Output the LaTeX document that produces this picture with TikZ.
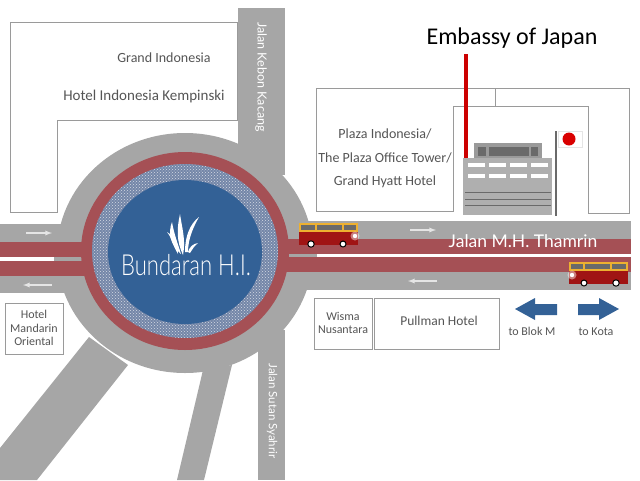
\documentclass[tikz,border=0pt]{standalone}
\usepackage{fontspec}
\setmainfont{Carlito}
\newfontfamily\thinfont{Lato Light}
\newfontfamily\streetfont{Lato}
\usetikzlibrary{patterns}

\definecolor{roadgrey}{HTML}{A6A6A6}
\definecolor{roadred}{HTML}{A55055}
\definecolor{parkblue}{HTML}{336196}
\definecolor{ringblue}{HTML}{7486A8}
\definecolor{boxline}{HTML}{9A9A9A}
\definecolor{labelgrey}{HTML}{555555}
\definecolor{busred}{HTML}{A01414}
\definecolor{busyellow}{HTML}{EDB030}
\definecolor{windowgrey}{HTML}{6A6A6A}

\tikzset{
  road/.style={fill=roadgrey,draw=none},
  lane/.style={fill=roadred,draw=none},
  plot/.style={draw=boxline,line width=0.8pt,fill=white},
  place/.style={text=labelgrey,font=\fontsize{14}{14}\selectfont,inner sep=0pt},
  streetname/.style={text=white,font=\streetfont\fontsize{12.5}{13}\selectfont,inner sep=0pt},
  flow/.style={draw=white!90!black,line width=1.3pt,-latex},
  wayout/.style={fill=parkblue,draw=none}
}

\begin{document}
\begin{tikzpicture}[x=1pt,y=-1pt]
  \useasboundingbox (0,0) rectangle (640,480);

  % plots behind the roads
  \draw[plot] (10,22) -- (237,22) -- (237,120) -- (57,120) -- (57,212) -- (10,212) -- cycle;
  \draw[plot] (316,88) -- (629,88) -- (629,213) -- (588,213) -- (588,106) -- (453,106) -- (453,211) -- (316,211) -- cycle;
  \draw[boxline,line width=0.8pt] (495,88) -- (495,106);

  % roads
  \fill[road] (238,8) rectangle (285,175);
  \fill[road] (258,330) rectangle (285,480);
  \fill[road] (0,224) rectangle (90,293);
  \fill[road] (280,221) rectangle (631,290);
  \fill[road] (0,448) -- (89,337) -- (128,365) -- (37,480) -- (0,480) -- cycle;
  \fill[road] (203,370) -- (177,480) -- (204,480) -- (232,365) -- cycle;
  \fill[road] (185,253) ellipse [x radius=128,y radius=120];

  % lanes
  \fill[lane] (0,242) rectangle (100,257);
  \fill[lane] (0,261) rectangle (100,276);
  \fill[lane] (270,239) rectangle (631,254);
  \fill[lane] (270,257) rectangle (631,272);
  \fill[white] (0,257) rectangle (54,261);
  \fill[white] (317,254) rectangle (631,257);

  % roundabout
  \fill[roadred] (185,251) ellipse [x radius=104,y radius=99];
  \fill[ringblue] (185,251) ellipse [x radius=93,y radius=87];
  \fill[pattern=crosshatch dots,pattern color=white!70!ringblue] (185,251) ellipse [x radius=93,y radius=87];
  \fill[parkblue] (185,252) ellipse [x radius=77,y radius=72];

  % grass
  \fill[white] (183,255) .. controls (176,240) and (177,228) .. (180,214) .. controls (182,228) and (186,240) .. cycle;
  \fill[white] (181,254) .. controls (170,245) and (168,232) .. (172,222) .. controls (174,234) and (178,244) .. cycle;
  \fill[white] (178,254) .. controls (172,244) and (172,238) .. (167,232) .. controls (174,236) and (178,244) .. cycle;
  \fill[white] (185,252) .. controls (185,236) and (190,224) .. (199,217) .. controls (194,226) and (188,238) .. (188,252) -- cycle;
  \fill[white] (188,252) .. controls (190,246) and (193,244) .. (198,243) .. controls (194,246) and (192,250) .. (190,253) -- cycle;

  % embassy building
  \fill[red!80!black] (464,54) rectangle (468,158);
  \fill[boxline] (474,143) rectangle (542,158);
  \foreach \winl/\winr in {478/486,489/529,531/538}
    \fill[windowgrey] (\winl,147) rectangle (\winr,156);
  \fill[roadgrey!90!white] (463,158) rectangle (552,215);
  \foreach \winx in {468,489,510,531} {
    \fill[white] (\winx,163) rectangle ++(17,4);
    \fill[white] (\winx,174) rectangle ++(17,4);
  }
  \foreach \liney in {192,199,205}
    \draw[windowgrey,line width=0.8pt] (465,\liney) -- (551,\liney);
  \fill[windowgrey] (555,131) rectangle (557,216);
  \draw[black!10,fill=white] (558,131) rectangle (582,147);
  \fill[red!85!black] (569,139) circle (6.5);

  % buses
  \foreach \busx/\busy/\busdir in {328/223/1,599/262/-1} {
    \begin{scope}[shift={(\busx,\busy)},xscale=\busdir]
      \fill[busred] (-29,8) rectangle (30,22);
      \fill[busyellow] (-29,0) rectangle (30,9);
      \foreach \winl/\winr in {-27/-13,-11/14,16/28}
        \fill[windowgrey] (\winl,2) rectangle (\winr,7);
      \draw[black,line width=1pt,fill=white] (-17,21) circle (3.2);
      \draw[black,line width=1pt,fill=white] (15,21) circle (3);
      \fill[white,opacity=0.45] (27,13) circle (4.5);
      \fill[white] (27,13) circle (2.2);
    \end{scope}
  }

  % direction arrows
  \draw[flow] (26,233) -- (52,233);
  \draw[flow] (52,285) -- (23,285);
  \draw[flow] (410,230) -- (436,230);
  \draw[flow] (437,281) -- (408,281);
  \fill[wayout] (515,309) -- (535,298) -- (535,304) -- (557,304) -- (557,315) -- (535,315) -- (535,320) -- cycle;
  \fill[wayout] (619,309) -- (599,298) -- (599,304) -- (578,304) -- (578,315) -- (599,315) -- (599,320) -- cycle;

  % plots beside the road
  \draw[plot] (5,303) rectangle (63,354);
  \draw[plot] (314,298) rectangle (372,349);
  \draw[plot] (374,298) rectangle (499,349);

  % labels
  \node[place] (grandindo) at (164,58) {Grand Indonesia};
  \node[place,font=\fontsize{15}{15}\selectfont] (kempinski) at (144,96) {Hotel Indonesia Kempinski};
  \node[place] (plazaindo) at (385,134) {Plaza Indonesia/};
  \node[place] (plazatower) at (385,158) {The Plaza Office Tower/};
  \node[place] (hyatt) at (385,182) {Grand Hyatt Hotel};
  \node[place,text=black,font=\fontsize{24}{24}\selectfont] (embassy) at (512,38) {Embassy of Japan};
  \node[place,font=\fontsize{12}{13.5}\selectfont,align=center] (mandarin) at (34,328) {Hotel\\Mandarin\\Oriental};
  \node[place,font=\fontsize{12}{13}\selectfont,align=center] (wisma) at (343,323) {Wisma\\Nusantara};
  \node[place,font=\fontsize{13.5}{14}\selectfont] (pullman) at (439,321) {Pullman Hotel};
  \node[place,font=\fontsize{12}{12}\selectfont] (blokm) at (532,331) {to Blok M};
  \node[place,font=\fontsize{12}{12}\selectfont] (kota) at (596,332) {to Kota};
  \node[streetname,font=\thinfont\fontsize{29}{29}\selectfont] (bundaran) at (186,265) {\scalebox{0.76}[1]{Bundaran H.I.}};
  \node[streetname,font=\streetfont\fontsize{17.5}{18}\selectfont] (thamrin) at (523,241) {Jalan M.H. Thamrin};
  \node[streetname,rotate=-90] (kebon) at (261,77) {Jalan Kebon Kacang};
  \node[streetname,font=\streetfont\fontsize{11.5}{12}\selectfont,rotate=-90] (sutan) at (272,411) {Jalan Sutan Syahrir};
\end{tikzpicture}
\end{document}
